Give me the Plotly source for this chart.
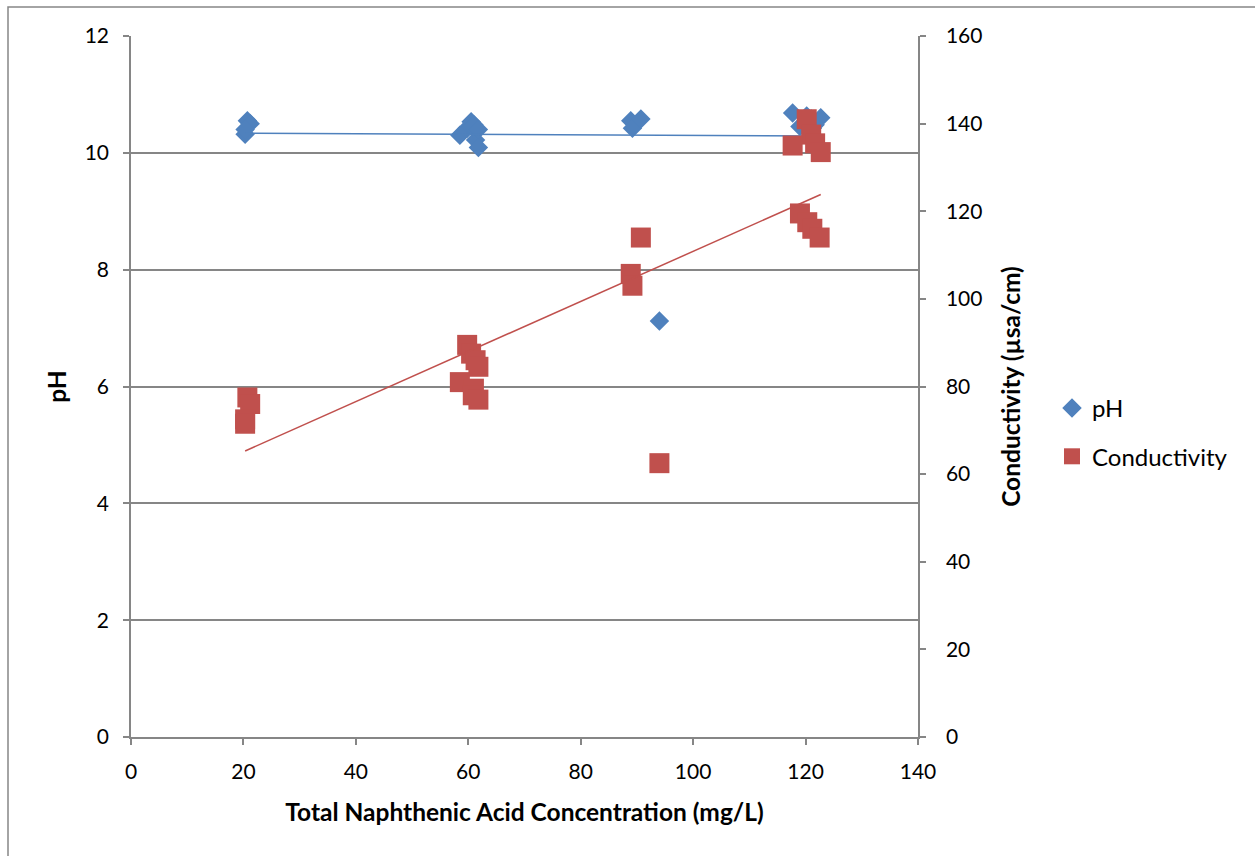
import numpy as np
import plotly.graph_objects as go

# Each sample: Total NA concentration (mg/L), pH, conductivity (µsa/cm)
na_conc = [20.7, 21.2, 20.3, 20.3,
           59.8, 60.5, 61.3, 61.8, 58.5, 61.0, 60.8, 61.8,
           88.9, 89.2, 90.7, 94.0,
           120.2, 121.0, 117.7, 121.7, 122.7, 119.0, 120.3, 121.2, 122.5]
ph_vals = [10.55, 10.50, 10.32, 10.40,
           10.42, 10.53, 10.22, 10.09, 10.30, 10.48, 10.45, 10.40,
           10.55, 10.42, 10.58, 7.12,
           10.63, 10.58, 10.68, 10.48, 10.60, 10.45, 10.42, 10.42, 10.10]
cond_vals = [77.5, 76.0, 72.5, 71.5,
             89.5, 87.5, 86.0, 84.5, 81.0, 79.5, 78.0, 77.0,
             105.7, 103.0, 114.0, 62.5,
             141.0, 137.5, 135.0, 135.5, 133.5, 119.5, 117.5, 116.0, 114.0]

x_ticks = [0, 20, 40, 60, 80, 100, 120, 140]
ph_ticks = [0, 2, 4, 6, 8, 10, 12]
cond_ticks = [0, 20, 40, 60, 80, 100, 120, 140, 160]

BLUE = "#4F81BD"
RED = "#C0504D"
GRID = "#868686"
FONT = "Lato"

def trend(x, y):
    k, b = np.polyfit(x, y, 1)
    xs = np.array([min(x), max(x)])
    return xs, k * xs + b

fig = go.Figure()
fig.add_trace(go.Scatter(x=na_conc, y=ph_vals, mode="markers", name="pH",
                         marker=dict(symbol="diamond", size=15, color=BLUE),
                         legendgroup="a"))
fig.add_trace(go.Scatter(x=na_conc, y=cond_vals, mode="markers", name="Conductivity", yaxis="y2",
                         marker=dict(symbol="square", size=20, color=RED),
                         legendgroup="b"))
tx, ty = trend(na_conc, ph_vals)
fig.add_trace(go.Scatter(x=tx, y=ty, mode="lines", line=dict(color=BLUE, width=1.5),
                         showlegend=False, hoverinfo="skip"))
tx2, ty2 = trend(na_conc, cond_vals)
fig.add_trace(go.Scatter(x=tx2, y=ty2, mode="lines", yaxis="y2", line=dict(color=RED, width=1.5),
                         showlegend=False, hoverinfo="skip"))

L, R, T, B = 131, 918, 36, 737
W, H = 1255, 856
pw, ph = R - L, B - T

def axis_common(standoff):
    return dict(showline=True, linecolor=GRID, linewidth=1.5, ticks="outside",
                ticklen=6, tickcolor=GRID, tickwidth=1.5, ticklabelstandoff=standoff,
                tickfont=dict(family=FONT, size=21, color="black"), zeroline=False)

fig.update_layout(
    width=W, height=H,
    margin=dict(l=L, r=W - R, t=T, b=H - B),
    paper_bgcolor="white", plot_bgcolor="white",
    font=dict(family=FONT, color="black"),
    xaxis=dict(range=[0, 140], tickvals=x_ticks, showgrid=False,
               title=dict(text="<b>Total Naphthenic Acid Concentration (mg/L)</b>",
                          font=dict(family=FONT, size=24.5), standoff=22),
               **axis_common(9)),
    yaxis=dict(range=[0, 12], tickvals=ph_ticks, showgrid=True, gridcolor=GRID, gridwidth=1.5,
               title=dict(text="<b>pH</b>", font=dict(family=FONT, size=24.5), standoff=11),
               **axis_common(10)),
    yaxis2=dict(range=[0, 160], tickvals=cond_ticks, overlaying="y", side="right", showgrid=False,
                title=dict(text="<b>Conductivity (µsa/cm)</b>", font=dict(family=FONT, size=24.5), standoff=21),
                **axis_common(16)),
    legend=dict(x=(1052 - L) / pw, y=(737 - 386) / ph, xanchor="left", yanchor="top",
                font=dict(family=FONT, size=24), tracegroupgap=14, traceorder="grouped",
                itemwidth=30, bgcolor="rgba(0,0,0,0)"),
    showlegend=True,
    shapes=[dict(type="rect", xref="paper", yref="paper",
                 x0=(8 - L) / pw, x1=1.5, y0=-0.5, y1=(B - 7) / ph,
                 line=dict(color=GRID, width=1.5), fillcolor="rgba(0,0,0,0)", layer="below")],
)

fig.write_html("out.html")
